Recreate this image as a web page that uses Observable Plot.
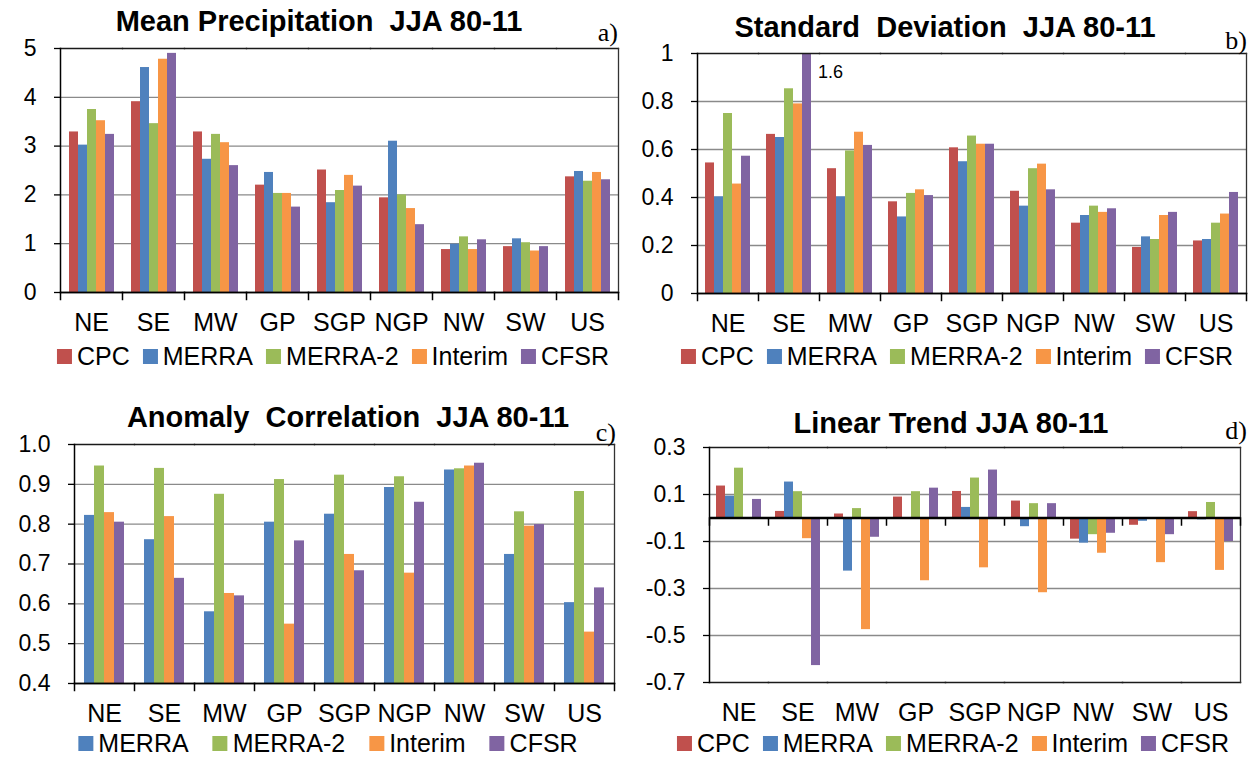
<!DOCTYPE html>
<html><head><meta charset="utf-8">
<script src="https://cdn.jsdelivr.net/npm/d3@7"></script>
<script src="https://cdn.jsdelivr.net/npm/@observablehq/plot@0.6"></script>
<style>
body{margin:0;background:#fff;}
#root{position:relative;width:1249px;height:759px;overflow:hidden;font-family:"Liberation Sans",Arial,sans-serif;color:#000;background:#fff;}
.title{position:absolute;font-weight:bold;font-size:29px;white-space:pre;transform:translateX(-50%);line-height:1;}
.plabel{position:absolute;font-family:"Liberation Serif","Times New Roman",serif;font-size:26px;line-height:1;}
.legend{position:absolute;display:flex;align-items:center;font-size:25px;line-height:normal;white-space:nowrap;transform:translateX(-50%);}
.legend .item{display:flex;align-items:center;}
.legend .sw{display:inline-block;width:15px;height:15px;margin-right:5px;}
</style>
</head><body>
<div id="root"></div>
<script>
// ---------- data ----------
const regions = ["NE","SE","MW","GP","SGP","NGP","NW","SW","US"];
const seriesNames = ["CPC","MERRA","MERRA-2","Interim","CFSR"];
const seriesColors = ["#C0504D","#4F81BD","#9BBB59","#F79646","#8064A2"];

// a) Mean Precipitation JJA 80-11
const meanCPC     = [3.29,3.91,3.29,2.20,2.51,1.94,0.88,0.94,2.37];
const meanMERRA   = [3.02,4.61,2.73,2.46,1.84,3.10,0.99,1.10,2.48];
const meanMERRA2  = [3.75,3.46,3.24,2.03,2.09,2.00,1.14,1.02,2.28];
const meanInterim = [3.52,4.78,3.07,2.03,2.40,1.72,0.88,0.85,2.46];
const meanCFSR    = [3.24,4.90,2.60,1.75,2.18,1.39,1.08,0.94,2.31];

// b) Standard Deviation JJA 80-11
const sdCPC     = [0.544,0.663,0.520,0.382,0.607,0.426,0.293,0.192,0.219];
const sdMERRA   = [0.403,0.650,0.403,0.319,0.549,0.364,0.325,0.236,0.225];
const sdMERRA2  = [0.750,0.853,0.594,0.417,0.656,0.520,0.364,0.225,0.293];
const sdInterim = [0.456,0.790,0.672,0.432,0.622,0.539,0.338,0.325,0.331];
const sdCFSR    = [0.572,1.6,0.617,0.408,0.622,0.432,0.353,0.338,0.421];

// c) Anomaly Correlation JJA 80-11
const acMERRA   = [0.822,0.761,0.580,0.805,0.825,0.892,0.936,0.724,0.603];
const acMERRA2  = [0.946,0.940,0.875,0.912,0.923,0.919,0.939,0.831,0.882];
const acInterim = [0.829,0.819,0.626,0.549,0.724,0.677,0.946,0.795,0.529];
const acCFSR    = [0.805,0.664,0.620,0.758,0.683,0.855,0.953,0.799,0.640];

// d) Linear Trend JJA 80-11
const trCPC     = [0.136,0.028,0.017,0.089,0.113,0.072,-0.090,-0.031,0.027];
const trMERRA   = [0.093,0.153,-0.226,0.000,0.045,-0.037,-0.107,-0.014,-0.008];
const trMERRA2  = [0.212,0.112,0.040,0.112,0.170,0.061,-0.071,0.000,0.066];
const trInterim = [0.000,-0.088,-0.475,-0.267,-0.212,-0.318,-0.150,-0.190,-0.223];
const trCFSR    = [0.079,-0.628,-0.082,0.127,0.204,0.061,-0.065,-0.071,-0.100];

// ---------- helpers ----------
function table(names, arrays) {
  const rows = [];
  names.forEach((s, j) => regions.forEach((r, i) => rows.push({region: r, series: s, value: arrays[j][i]})));
  return rows;
}
const root = document.getElementById("root");
const FONT = '"Liberation Sans", Arial, sans-serif';

function addDiv(cls, css, html) {
  const d = document.createElement("div");
  d.className = cls;
  Object.assign(d.style, css);
  d.innerHTML = html;
  root.appendChild(d);
  return d;
}

function panel(cfg) {
  const {names, arrays, yDomain, yTicks, gridTicks, fmt, base, pad, box, plot} = cfg;
  const data = table(names, arrays);
  const ML = plot.L - box.left, MR = box.left + box.width - plot.R;
  const MT = plot.T - box.top, MB = box.top + box.height - plot.B;
  const innerH = box.height - MT - MB;
  const baseOff = innerH * (yDomain[1] - base) / (yDomain[1] - yDomain[0]);
  const tickLen = 7;
  const over = data.filter(d => d.value > yDomain[1]);
  const chart = Plot.plot({
    width: box.width, height: box.height,
    marginLeft: ML, marginRight: MR, marginTop: MT, marginBottom: MB,
    style: {fontFamily: FONT, fontSize: "23px", color: "#000", background: "transparent", overflow: "visible"},
    fx: {domain: regions, padding: 0, axis: null, label: null},
    x: {domain: names, paddingInner: 0, paddingOuter: pad, axis: null},
    y: {domain: yDomain, axis: null, label: null},
    color: {domain: seriesNames, range: seriesColors},
    marks: [
      Plot.gridY({ticks: gridTicks, stroke: "#8a8a8a", strokeOpacity: 1, strokeWidth: 1.3}),
      Plot.barY(data, {fx: "region", x: "series", y: "value", fill: "series", clip: true}),
      Plot.text(over, {fx: "region", x: "series", y: d => yDomain[1], text: d => d.value.toFixed(1),
        textAnchor: "start", dx: 11, dy: 19, fontSize: 18, fill: "#000"}),
      Plot.frame({anchor: "top", stroke: "#1a1a1a", strokeWidth: 1.3}),
      Plot.frame({anchor: "bottom", stroke: "#1a1a1a", strokeWidth: 1.5}),
      Plot.frame({anchor: "left", facetAnchor: "left", stroke: "#000", strokeWidth: 1.5}),
      Plot.frame({anchor: "right", facetAnchor: "right", stroke: "#333", strokeWidth: 1.3}),
      Plot.ruleY([base], {stroke: "#000", strokeWidth: base === yDomain[0] ? 1.5 : 2.6}),
      Plot.frame({anchor: "left", insetTop: baseOff, insetBottom: innerH - baseOff - tickLen, stroke: "#000", strokeWidth: 1.5}),
      Plot.frame({anchor: "right", facetAnchor: "right", insetTop: baseOff, insetBottom: innerH - baseOff - tickLen, stroke: "#000", strokeWidth: 1.5}),
      Plot.axisY({ticks: yTicks, tickFormat: fmt, tickSize: 6, tickPadding: 18, fontSize: 23, strokeWidth: 1.3, label: null}),
      Plot.axisFx({anchor: "bottom", tickSize: 0, tickPadding: 21, fontSize: 25, label: null})
    ]
  });
  chart.style.position = "absolute";
  chart.style.left = box.left + "px";
  chart.style.top = box.top + "px";
  chart.style.maxWidth = "none";
  chart.style.width = box.width + "px";
  chart.style.height = box.height + "px";
  root.appendChild(chart);

  addDiv("title", {left: cfg.title.x + "px", top: cfg.title.top + "px"}, cfg.title.text);
  addDiv("plabel", {right: (1249 - cfg.label.right) + "px", top: cfg.label.top + "px"}, cfg.label.text);
  const lg = addDiv("legend", {left: cfg.legend.x + "px", top: cfg.legend.top + "px", gap: cfg.legend.gap + "px"}, "");
  names.forEach(s => {
    const it = document.createElement("div");
    it.className = "item";
    it.innerHTML = `<span class="sw" style="background:${seriesColors[seriesNames.indexOf(s)]}"></span><span>${s}</span>`;
    lg.appendChild(it);
  });
}

const fmtInt = d => String(d);
const fmt1 = d => d.toFixed(1);

panel({
  names: seriesNames,
  arrays: [meanCPC, meanMERRA, meanMERRA2, meanInterim, meanCFSR],
  yDomain: [0, 5], yTicks: [0,1,2,3,4,5], gridTicks: [1,2,3,4], fmt: fmtInt, base: 0, pad: 0.7,
  box: {left: 0, top: 40, width: 625, height: 300},
  plot: {L: 59, R: 619, T: 48, B: 292},
  title: {text: "Mean Precipitation  JJA 80-11", x: 319, top: 7},
  label: {text: "a)", right: 618, top: 20},
  legend: {x: 333, top: 342, gap: 13}
});

panel({
  names: seriesNames,
  arrays: [sdCPC, sdMERRA, sdMERRA2, sdInterim, sdCFSR],
  yDomain: [0, 1], yTicks: [0,0.2,0.4,0.6,0.8,1], gridTicks: [0.2,0.4,0.6,0.8], fmt: fmtInt, base: 0, pad: 0.7,
  box: {left: 625, top: 40, width: 624, height: 300},
  plot: {L: 697, R: 1246, T: 53, B: 293},
  title: {text: "Standard  Deviation  JJA 80-11", x: 945, top: 13},
  label: {text: "b)", right: 1247, top: 28},
  legend: {x: 957, top: 342, gap: 13}
});

panel({
  names: seriesNames.slice(1),
  arrays: [acMERRA, acMERRA2, acInterim, acCFSR],
  yDomain: [0.4, 1.0], yTicks: [0.4,0.5,0.6,0.7,0.8,0.9,1.0], gridTicks: [0.5,0.6,0.7,0.8,0.9], fmt: fmt1, base: 0.4, pad: 0.75,
  box: {left: 0, top: 430, width: 625, height: 300},
  plot: {L: 70, R: 617, T: 444, B: 683},
  title: {text: "Anomaly  Correlation  JJA 80-11", x: 348, top: 403},
  label: {text: "c)", right: 616, top: 420},
  legend: {x: 328, top: 729, gap: 24}
});

panel({
  names: seriesNames,
  arrays: [trCPC, trMERRA, trMERRA2, trInterim, trCFSR],
  yDomain: [-0.7, 0.3], yTicks: [-0.7,-0.5,-0.3,-0.1,0.1,0.3], gridTicks: [-0.5,-0.3,-0.1,0.1], fmt: fmt1, base: 0, pad: 0.7,
  box: {left: 625, top: 430, width: 624, height: 300},
  plot: {L: 705, R: 1244, T: 447, B: 682},
  title: {text: "Linear Trend JJA 80-11", x: 951, top: 409},
  label: {text: "d)", right: 1247, top: 418},
  legend: {x: 953, top: 729, gap: 13}
});
</script>
</body></html>
